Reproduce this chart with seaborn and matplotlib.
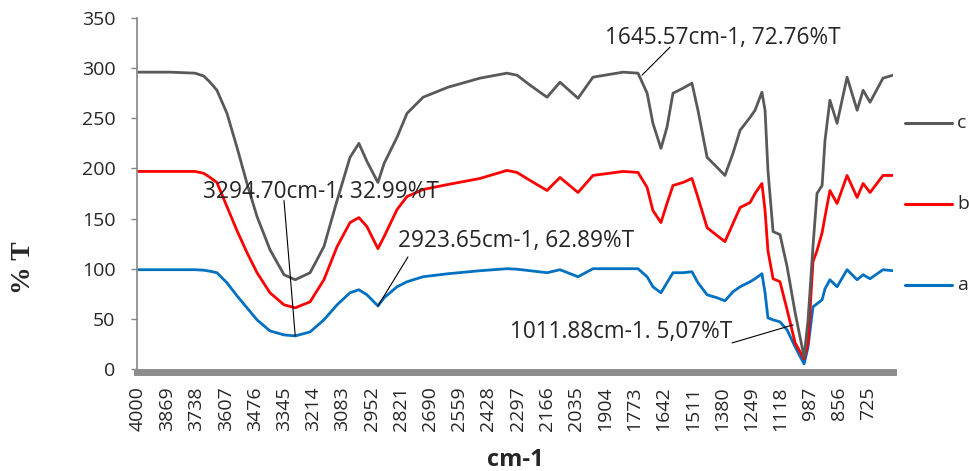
import matplotlib
matplotlib.use('Agg')
import matplotlib.pyplot as plt
from matplotlib.lines import Line2D
import numpy as np
import pandas as pd
import seaborn as sns

# wavenumbers (cm-1), shared by the three spectra
wavenumber = [4000, 3856, 3744, 3704, 3677, 3646, 3601, 3556, 3511, 3466,
              3408, 3345, 3294.7, 3228, 3166, 3107, 3049, 3009, 2973, 2923.65,
              2896, 2838, 2793, 2721, 2609, 2466, 2345, 2300, 2241, 2165,
              2107, 2026, 1959, 1824, 1757, 1716, 1690, 1654, 1627, 1600,
              1555, 1515, 1488, 1447, 1402, 1367, 1331, 1299, 1254, 1232,
              1201, 1187, 1174, 1151, 1120, 1088, 1052, 1011.88, 994, 972,
              954, 931, 918, 896, 864, 819, 774, 747, 716, 658, 613]

trans_a = [99, 99, 99, 98.5, 97.5, 96, 86, 73, 61, 49,
           38, 34, 32.99, 37, 49, 64, 76, 79, 74, 62.89,
           71, 82, 87, 92, 95, 98, 100, 99.5, 98, 96,
           99, 92, 100, 100, 100, 92, 82, 76, 86, 96,
           96, 97, 86, 74, 71, 68, 77, 82, 87, 90,
           95, 76, 51, 49, 47, 39, 22, 5.07, 22, 62,
           65, 69, 80, 89, 82, 99, 89, 94, 90, 99, 98]

trans_b = [197, 197, 197, 195, 191, 186, 162, 138, 116, 96,
           76, 64, 61, 67, 89, 122, 146, 151, 142, 120,
           132, 159, 172, 179, 184, 190, 198, 196, 188, 178,
           191, 176, 193, 197, 196, 181, 158, 146, 165, 183,
           186, 190, 171, 141, 133, 127, 145, 161, 166, 175,
           185, 158, 118, 90, 87, 59, 26, 10, 26, 107,
           118, 136, 152, 178, 165, 193, 171, 185, 176, 193, 193]

trans_c = [296, 296, 295, 292, 286, 278, 255, 221, 185, 152,
           119, 94, 89, 96, 122, 168, 211, 225, 207, 186,
           205, 231, 255, 271, 281, 290, 295, 293, 283, 271,
           286, 270, 291, 296, 295, 275, 245, 220, 241, 275,
           280, 285, 258, 211, 201, 193, 215, 238, 251, 258,
           276, 258, 198, 137, 134, 102, 56, 12, 49, 122,
           175, 183, 228, 268, 245, 291, 258, 278, 266, 290, 293]

series_names = ['a', 'b', 'c']
series_colors = {'a': '#0070C0', 'b': '#FF0000', 'c': '#595959'}

x_ticks = [4000, 3869, 3738, 3607, 3476, 3345, 3214, 3083, 2952, 2821,
           2690, 2559, 2428, 2297, 2166, 2035, 1904, 1773, 1642, 1511,
           1380, 1249, 1118, 987, 856, 725]
y_ticks = [0, 50, 100, 150, 200, 250, 300, 350]

df = pd.DataFrame({
    'wn': wavenumber * 3,
    'T': trans_a + trans_b + trans_c,
    'sample': ['a'] * len(trans_a) + ['b'] * len(trans_b) + ['c'] * len(trans_c),
})

sns.set_theme(style='white')
plt.rcParams['font.family'] = ['Open Sans', 'DejaVu Sans']

W, H = 969, 471
fig = plt.figure(figsize=(W / 100, H / 100), dpi=100)
ax = fig.add_axes([137 / W, 1 - 369 / H, (893 - 137) / W, (369 - 18) / H])

sns.lineplot(data=df, x='wn', y='T', hue='sample', palette=series_colors,
             hue_order=series_names, sort=False, estimator=None,
             linewidth=2.0, legend=False, ax=ax)

ax.set_xlim(4004.5, 613)
ax.set_ylim(0, 350)
ax.set_xticks(x_ticks)
ax.set_xticklabels([str(t) for t in x_ticks])
ax.set_yticks(y_ticks)

for s in ['top', 'right']:
    ax.spines[s].set_visible(False)
ax.spines['left'].set_color('#868686')
ax.spines['left'].set_linewidth(1.2)
ax.spines['bottom'].set_color('#8c8c8c')
ax.spines['bottom'].set_linewidth(5.0)
ax.spines['bottom'].set_position(('outward', 2.5))

ax.tick_params(axis='y', length=4.5, width=1, color='#868686', left=True,
               pad=11, labelsize=14, labelcolor='#262626')
ax.tick_params(axis='x', length=0, pad=10, labelsize=14, labelcolor='#262626',
               labelrotation=90)

ax.set_xlabel('cm-1', fontsize=17, fontweight='bold', va='center')
ax.set_ylabel('% T', fontsize=20, fontweight='bold', va='center',
              family=['Liberation Serif', 'DejaVu Serif'])
ax.xaxis.set_label_coords((515 - 137) / (893 - 137), -(460 - 369) / (369 - 18))
ax.yaxis.set_label_coords(-(137 - 24) / (893 - 137), (369 - 268) / (369 - 18))

# peak labels with their leader lines
notes = [
    ('3294.70cm-1. 32.99%T', (3708, 176.5), (3345, 168), (3294.7, 32.99)),
    ('2923.65cm-1, 62.89%T', (2834, 127.6), (2789, 111.7), (2923.65, 62.89)),
    ('1645.57cm-1, 72.76%T', (1905, 330), (1613, 321), (1739, 293)),
    ('1011.88cm-1. 5,07%T', (2331, 36.9), (1335, 26), (1061, 44)),
]
for txt, pos, start, end in notes:
    ax.text(pos[0], pos[1], txt, ha='left', va='center', fontsize=16.3,
            color='#262626', zorder=5)
    ax.plot([start[0], end[0]], [start[1], end[1]], color='black',
            linewidth=0.8, zorder=4)

# legend on the right, c on top
for name, py in zip(['c', 'b', 'a'], [123, 204, 285]):
    yf = 1 - py / H
    fig.add_artist(Line2D([905 / W, 952 / W], [yf, yf], color=series_colors[name],
                          linewidth=2.2, transform=fig.transFigure))
    fig.text(957 / W, yf, name, ha='left', va='center', fontsize=14,
             color='#262626')

fig.savefig('out.png', dpi=100)
